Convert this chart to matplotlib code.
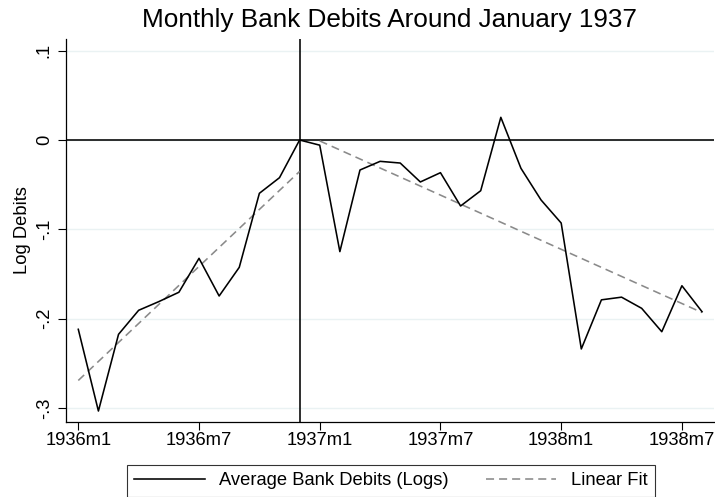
import numpy as np
import matplotlib
matplotlib.use("Agg")
import matplotlib.pyplot as plt

plt.rcParams['font.family'] = ['Liberation Sans', 'DejaVu Sans']
plt.rcParams['lines.scale_dashes'] = False

# Monthly average bank debits (logs), normalised to 1936m12 = 0
months = ["1936m1", "1936m2", "1936m3", "1936m4", "1936m5", "1936m6",
          "1936m7", "1936m8", "1936m9", "1936m10", "1936m11", "1936m12",
          "1937m1", "1937m2", "1937m3", "1937m4", "1937m5", "1937m6",
          "1937m7", "1937m8", "1937m9", "1937m10", "1937m11", "1937m12",
          "1938m1", "1938m2", "1938m3", "1938m4", "1938m5", "1938m6",
          "1938m7", "1938m8"]
log_debits = [-0.212, -0.3035, -0.2176, -0.1907, -0.181, -0.1705,
              -0.1325, -0.1747, -0.1426, -0.0597, -0.0422, 0.0,
              -0.0058, -0.125, -0.0336, -0.0239, -0.0258, -0.047,
              -0.0366, -0.0739, -0.0568, 0.0254, -0.0317, -0.0672,
              -0.093, -0.234, -0.179, -0.176, -0.1885, -0.2147,
              -0.1632, -0.1923]

xtick_labels = ["1936m1", "1936m7", "1937m1", "1937m7", "1938m1", "1938m7"]
ytick_values = [-0.3, -0.2, -0.1, 0.0, 0.1]
ytick_labels = ["-.3", "-.2", "-.1", "0", ".1"]
break_month = "1936m12"

x = np.arange(len(months))
y = np.array(log_debits)
brk = months.index(break_month)

# Separate linear fits before and after the break
pre = x <= brk
post = x > brk
fit_pre = np.polyval(np.polyfit(x[pre], y[pre], 1), x[pre])
fit_post = np.polyval(np.polyfit(x[post], y[post], 1), x[post])

W, H = 715, 497
fig = plt.figure(figsize=(W / 100, H / 100), dpi=100)
ax = fig.add_axes([66 / W, 1 - 422 / H, (714 - 66) / W, (422 - 39) / H])

grid_color = "#eaf2f3"
for v in ytick_values:
    ax.axhline(v, color=grid_color, lw=1.0, zorder=0)

ax.axhline(0, color="black", lw=1.15, zorder=2)
ax.axvline(brk, color="black", lw=1.15, zorder=2)

dash_color = "#8a8a8a"
l1, = ax.plot(x, y, color="black", lw=1.15, zorder=4,
              label="Average Bank Debits (Logs)")
l2, = ax.plot(x[pre], fit_pre, color=dash_color, lw=1.15,
              linestyle=(0, (5.8, 3.6)), zorder=3, label="Linear Fit")
ax.plot(x[post], fit_post, color=dash_color, lw=1.15,
        linestyle=(0, (5.8, 3.6)), zorder=3)

ax.set_xlim(-0.611, 31.595)
ax.set_ylim(-0.3158, 0.1131)

ax.set_xticks([months.index(m) for m in xtick_labels])
ax.set_xticklabels(xtick_labels)
ax.set_yticks(ytick_values)
ax.set_yticklabels(ytick_labels, rotation=90, va="center")

fs = 13.2
ax.tick_params(axis="both", length=5.5, width=0.8, labelsize=fs,
               color="black", pad=2)
ax.tick_params(axis="y", pad=4)

for s in ["top", "right"]:
    ax.spines[s].set_visible(False)
for s in ["left", "bottom"]:
    ax.spines[s].set_linewidth(0.9)
    ax.spines[s].set_color("black")

fig.text(390 / W, 1 - 20 / H, "Monthly Bank Debits Around January 1937",
         ha="center", va="center", fontsize=18.8)
fig.text(23 / W, 1 - 230 / H, "Log Debits", rotation=90,
         ha="center", va="center", fontsize=fs)

leg = ax.legend(handles=[l1, l2], loc="upper left",
                bbox_to_anchor=(126.7 / W, 1 - 465 / H),
                bbox_transform=fig.transFigure, ncol=2, fontsize=fs,
                frameon=True, fancybox=False, edgecolor="black",
                handlelength=3.85, handletextpad=0.8, columnspacing=2.0,
                borderpad=0.4, borderaxespad=0)
leg.get_frame().set_linewidth(0.8)

fig.savefig("out.png", dpi=100, facecolor="white")
